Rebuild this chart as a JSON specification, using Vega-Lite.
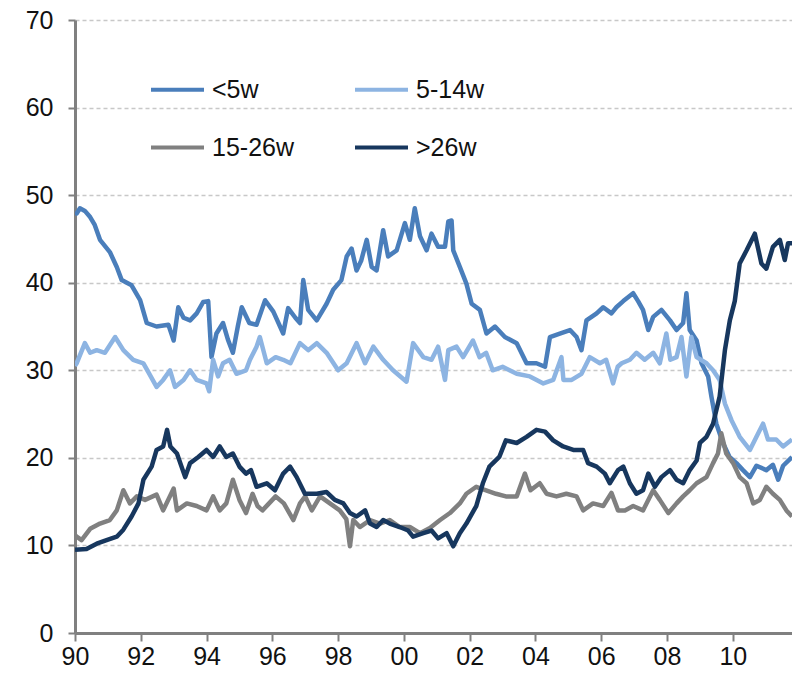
{
  "$schema": "https://vega.github.io/schema/vega-lite/v6.json",
  "width": 717,
  "height": 613,
  "autosize": {"type": "none"},
  "padding": {"left": 75, "top": 20, "right": 0, "bottom": 44},
  "background": "white",
  "config": {
    "view": {"stroke": null},
    "font": "Liberation Sans",
    "legend": {"labelFont": "Liberation Sans"}
  },
  "data": {
    "values": [
      {"s":"<5w","t":1990.0,"v":48.0},{"s":"<5w","t":1990.05,"v":47.9},{"s":"<5w","t":1990.15,"v":48.5},{"s":"<5w","t":1990.3,"v":48.2},{"s":"<5w","t":1990.46,"v":47.5},{"s":"<5w","t":1990.6,"v":46.6},{"s":"<5w","t":1990.76,"v":44.9},{"s":"<5w","t":1991.06,"v":43.5},{"s":"<5w","t":1991.27,"v":41.8},{"s":"<5w","t":1991.42,"v":40.3},{"s":"<5w","t":1991.72,"v":39.7},{"s":"<5w","t":1991.98,"v":38.0},{"s":"<5w","t":1992.18,"v":35.4},{"s":"<5w","t":1992.48,"v":35.0},{"s":"<5w","t":1992.84,"v":35.2},{"s":"<5w","t":1993.0,"v":33.4},{"s":"<5w","t":1993.14,"v":37.2},{"s":"<5w","t":1993.3,"v":36.0},{"s":"<5w","t":1993.5,"v":35.7},{"s":"<5w","t":1993.7,"v":36.5},{"s":"<5w","t":1993.9,"v":37.8},{"s":"<5w","t":1994.05,"v":37.9},{"s":"<5w","t":1994.15,"v":31.5},{"s":"<5w","t":1994.3,"v":34.2},{"s":"<5w","t":1994.5,"v":35.4},{"s":"<5w","t":1994.65,"v":33.5},{"s":"<5w","t":1994.8,"v":32.0},{"s":"<5w","t":1994.95,"v":35.0},{"s":"<5w","t":1995.07,"v":37.2},{"s":"<5w","t":1995.3,"v":35.4},{"s":"<5w","t":1995.52,"v":35.2},{"s":"<5w","t":1995.78,"v":38.0},{"s":"<5w","t":1996.03,"v":36.7},{"s":"<5w","t":1996.33,"v":34.2},{"s":"<5w","t":1996.48,"v":37.1},{"s":"<5w","t":1996.7,"v":36.0},{"s":"<5w","t":1996.84,"v":35.4},{"s":"<5w","t":1996.94,"v":40.3},{"s":"<5w","t":1997.09,"v":36.9},{"s":"<5w","t":1997.35,"v":35.7},{"s":"<5w","t":1997.65,"v":37.6},{"s":"<5w","t":1997.85,"v":39.2},{"s":"<5w","t":1998.1,"v":40.3},{"s":"<5w","t":1998.26,"v":43.0},{"s":"<5w","t":1998.41,"v":43.9},{"s":"<5w","t":1998.56,"v":41.4},{"s":"<5w","t":1998.7,"v":42.5},{"s":"<5w","t":1998.87,"v":44.9},{"s":"<5w","t":1999.02,"v":41.8},{"s":"<5w","t":1999.17,"v":41.4},{"s":"<5w","t":1999.37,"v":46.0},{"s":"<5w","t":1999.52,"v":43.0},{"s":"<5w","t":1999.78,"v":43.7},{"s":"<5w","t":2000.03,"v":46.8},{"s":"<5w","t":2000.18,"v":44.9},{"s":"<5w","t":2000.33,"v":48.5},{"s":"<5w","t":2000.49,"v":45.3},{"s":"<5w","t":2000.69,"v":43.7},{"s":"<5w","t":2000.84,"v":45.6},{"s":"<5w","t":2001.04,"v":44.1},{"s":"<5w","t":2001.25,"v":44.1},{"s":"<5w","t":2001.35,"v":47.0},{"s":"<5w","t":2001.45,"v":47.1},{"s":"<5w","t":2001.5,"v":43.7},{"s":"<5w","t":2001.7,"v":41.8},{"s":"<5w","t":2001.9,"v":39.9},{"s":"<5w","t":2002.06,"v":37.6},{"s":"<5w","t":2002.31,"v":36.9},{"s":"<5w","t":2002.51,"v":34.2},{"s":"<5w","t":2002.77,"v":35.0},{"s":"<5w","t":2003.07,"v":33.8},{"s":"<5w","t":2003.43,"v":33.1},{"s":"<5w","t":2003.73,"v":30.8},{"s":"<5w","t":2004.03,"v":30.8},{"s":"<5w","t":2004.29,"v":30.4},{"s":"<5w","t":2004.44,"v":33.8},{"s":"<5w","t":2004.74,"v":34.2},{"s":"<5w","t":2005.05,"v":34.6},{"s":"<5w","t":2005.25,"v":33.8},{"s":"<5w","t":2005.4,"v":32.3},{"s":"<5w","t":2005.55,"v":35.7},{"s":"<5w","t":2005.86,"v":36.5},{"s":"<5w","t":2006.06,"v":37.2},{"s":"<5w","t":2006.31,"v":36.5},{"s":"<5w","t":2006.46,"v":37.2},{"s":"<5w","t":2006.67,"v":37.9},{"s":"<5w","t":2006.97,"v":38.8},{"s":"<5w","t":2007.12,"v":37.9},{"s":"<5w","t":2007.27,"v":36.9},{"s":"<5w","t":2007.43,"v":34.6},{"s":"<5w","t":2007.58,"v":36.1},{"s":"<5w","t":2007.83,"v":36.9},{"s":"<5w","t":2008.09,"v":35.7},{"s":"<5w","t":2008.29,"v":34.6},{"s":"<5w","t":2008.49,"v":35.4},{"s":"<5w","t":2008.59,"v":38.8},{"s":"<5w","t":2008.69,"v":34.6},{"s":"<5w","t":2008.9,"v":33.4},{"s":"<5w","t":2009.05,"v":30.8},{"s":"<5w","t":2009.25,"v":29.3},{"s":"<5w","t":2009.35,"v":27.0},{"s":"<5w","t":2009.5,"v":23.9},{"s":"<5w","t":2009.7,"v":21.7},{"s":"<5w","t":2009.9,"v":20.1},{"s":"<5w","t":2010.11,"v":19.4},{"s":"<5w","t":2010.31,"v":18.6},{"s":"<5w","t":2010.52,"v":17.8},{"s":"<5w","t":2010.72,"v":19.1},{"s":"<5w","t":2011.02,"v":18.6},{"s":"<5w","t":2011.22,"v":19.2},{"s":"<5w","t":2011.38,"v":17.5},{"s":"<5w","t":2011.53,"v":19.1},{"s":"<5w","t":2011.8,"v":20.1},

      {"s":"5-14w","t":1990.0,"v":30.5},{"s":"5-14w","t":1990.05,"v":30.8},{"s":"5-14w","t":1990.3,"v":33.1},{"s":"5-14w","t":1990.46,"v":32.0},{"s":"5-14w","t":1990.66,"v":32.3},{"s":"5-14w","t":1990.91,"v":32.0},{"s":"5-14w","t":1991.22,"v":33.8},{"s":"5-14w","t":1991.47,"v":32.3},{"s":"5-14w","t":1991.77,"v":31.2},{"s":"5-14w","t":1992.08,"v":30.8},{"s":"5-14w","t":1992.23,"v":29.8},{"s":"5-14w","t":1992.48,"v":28.1},{"s":"5-14w","t":1992.68,"v":28.9},{"s":"5-14w","t":1992.89,"v":30.0},{"s":"5-14w","t":1993.04,"v":28.1},{"s":"5-14w","t":1993.3,"v":28.9},{"s":"5-14w","t":1993.5,"v":30.0},{"s":"5-14w","t":1993.7,"v":28.9},{"s":"5-14w","t":1994.0,"v":28.5},{"s":"5-14w","t":1994.08,"v":27.6},{"s":"5-14w","t":1994.2,"v":31.2},{"s":"5-14w","t":1994.35,"v":29.3},{"s":"5-14w","t":1994.5,"v":30.8},{"s":"5-14w","t":1994.7,"v":31.2},{"s":"5-14w","t":1994.91,"v":29.6},{"s":"5-14w","t":1995.2,"v":30.0},{"s":"5-14w","t":1995.32,"v":31.2},{"s":"5-14w","t":1995.52,"v":32.7},{"s":"5-14w","t":1995.62,"v":33.8},{"s":"5-14w","t":1995.83,"v":30.8},{"s":"5-14w","t":1996.1,"v":31.5},{"s":"5-14w","t":1996.33,"v":31.2},{"s":"5-14w","t":1996.55,"v":30.8},{"s":"5-14w","t":1996.84,"v":33.1},{"s":"5-14w","t":1997.09,"v":32.3},{"s":"5-14w","t":1997.35,"v":33.1},{"s":"5-14w","t":1997.65,"v":32.0},{"s":"5-14w","t":1998.0,"v":30.0},{"s":"5-14w","t":1998.26,"v":30.8},{"s":"5-14w","t":1998.56,"v":33.1},{"s":"5-14w","t":1998.82,"v":30.8},{"s":"5-14w","t":1999.07,"v":32.7},{"s":"5-14w","t":1999.37,"v":31.2},{"s":"5-14w","t":1999.67,"v":30.0},{"s":"5-14w","t":2000.08,"v":28.7},{"s":"5-14w","t":2000.28,"v":33.1},{"s":"5-14w","t":2000.59,"v":31.5},{"s":"5-14w","t":2000.84,"v":31.2},{"s":"5-14w","t":2001.04,"v":32.7},{"s":"5-14w","t":2001.25,"v":28.9},{"s":"5-14w","t":2001.35,"v":32.3},{"s":"5-14w","t":2001.6,"v":32.7},{"s":"5-14w","t":2001.8,"v":31.5},{"s":"5-14w","t":2002.1,"v":33.4},{"s":"5-14w","t":2002.3,"v":31.5},{"s":"5-14w","t":2002.5,"v":32.0},{"s":"5-14w","t":2002.7,"v":30.0},{"s":"5-14w","t":2003.0,"v":30.4},{"s":"5-14w","t":2003.43,"v":29.6},{"s":"5-14w","t":2003.83,"v":29.3},{"s":"5-14w","t":2004.24,"v":28.5},{"s":"5-14w","t":2004.54,"v":28.9},{"s":"5-14w","t":2004.79,"v":31.5},{"s":"5-14w","t":2004.85,"v":28.9},{"s":"5-14w","t":2005.1,"v":28.9},{"s":"5-14w","t":2005.4,"v":29.6},{"s":"5-14w","t":2005.65,"v":31.5},{"s":"5-14w","t":2005.96,"v":30.8},{"s":"5-14w","t":2006.15,"v":31.2},{"s":"5-14w","t":2006.36,"v":28.5},{"s":"5-14w","t":2006.5,"v":30.4},{"s":"5-14w","t":2006.62,"v":30.8},{"s":"5-14w","t":2006.87,"v":31.2},{"s":"5-14w","t":2007.07,"v":32.0},{"s":"5-14w","t":2007.32,"v":31.2},{"s":"5-14w","t":2007.58,"v":32.0},{"s":"5-14w","t":2007.78,"v":30.8},{"s":"5-14w","t":2007.98,"v":34.2},{"s":"5-14w","t":2008.1,"v":31.2},{"s":"5-14w","t":2008.29,"v":31.5},{"s":"5-14w","t":2008.44,"v":33.8},{"s":"5-14w","t":2008.59,"v":29.3},{"s":"5-14w","t":2008.74,"v":33.8},{"s":"5-14w","t":2008.9,"v":31.5},{"s":"5-14w","t":2009.2,"v":30.8},{"s":"5-14w","t":2009.4,"v":30.0},{"s":"5-14w","t":2009.6,"v":28.9},{"s":"5-14w","t":2009.76,"v":26.2},{"s":"5-14w","t":2009.96,"v":24.3},{"s":"5-14w","t":2010.21,"v":22.4},{"s":"5-14w","t":2010.52,"v":20.9},{"s":"5-14w","t":2010.72,"v":22.4},{"s":"5-14w","t":2010.92,"v":23.9},{"s":"5-14w","t":2011.07,"v":22.1},{"s":"5-14w","t":2011.32,"v":22.1},{"s":"5-14w","t":2011.53,"v":21.3},{"s":"5-14w","t":2011.8,"v":22.1},

      {"s":"15-26w","t":1990.0,"v":11.2},{"s":"15-26w","t":1990.05,"v":11.0},{"s":"15-26w","t":1990.2,"v":10.6},{"s":"15-26w","t":1990.46,"v":11.9},{"s":"15-26w","t":1990.76,"v":12.5},{"s":"15-26w","t":1991.06,"v":12.9},{"s":"15-26w","t":1991.27,"v":14.0},{"s":"15-26w","t":1991.47,"v":16.3},{"s":"15-26w","t":1991.67,"v":14.8},{"s":"15-26w","t":1991.88,"v":15.6},{"s":"15-26w","t":1992.13,"v":15.2},{"s":"15-26w","t":1992.48,"v":15.8},{"s":"15-26w","t":1992.68,"v":14.0},{"s":"15-26w","t":1993.0,"v":16.5},{"s":"15-26w","t":1993.1,"v":14.0},{"s":"15-26w","t":1993.4,"v":14.8},{"s":"15-26w","t":1993.7,"v":14.5},{"s":"15-26w","t":1994.0,"v":14.0},{"s":"15-26w","t":1994.2,"v":15.6},{"s":"15-26w","t":1994.4,"v":14.0},{"s":"15-26w","t":1994.6,"v":14.8},{"s":"15-26w","t":1994.8,"v":17.5},{"s":"15-26w","t":1995.0,"v":15.2},{"s":"15-26w","t":1995.2,"v":13.7},{"s":"15-26w","t":1995.4,"v":15.9},{"s":"15-26w","t":1995.55,"v":14.5},{"s":"15-26w","t":1995.7,"v":14.0},{"s":"15-26w","t":1995.9,"v":14.8},{"s":"15-26w","t":1996.1,"v":15.6},{"s":"15-26w","t":1996.35,"v":14.8},{"s":"15-26w","t":1996.64,"v":12.9},{"s":"15-26w","t":1996.84,"v":14.8},{"s":"15-26w","t":1997.0,"v":15.6},{"s":"15-26w","t":1997.2,"v":14.0},{"s":"15-26w","t":1997.45,"v":15.6},{"s":"15-26w","t":1997.75,"v":14.8},{"s":"15-26w","t":1998.05,"v":14.0},{"s":"15-26w","t":1998.25,"v":13.0},{"s":"15-26w","t":1998.36,"v":9.9},{"s":"15-26w","t":1998.46,"v":12.9},{"s":"15-26w","t":1998.66,"v":12.1},{"s":"15-26w","t":1998.97,"v":12.9},{"s":"15-26w","t":1999.27,"v":12.5},{"s":"15-26w","t":1999.57,"v":12.9},{"s":"15-26w","t":1999.87,"v":12.1},{"s":"15-26w","t":2000.18,"v":12.1},{"s":"15-26w","t":2000.49,"v":11.4},{"s":"15-26w","t":2000.79,"v":12.0},{"s":"15-26w","t":2001.1,"v":12.9},{"s":"15-26w","t":2001.4,"v":13.7},{"s":"15-26w","t":2001.7,"v":14.8},{"s":"15-26w","t":2001.9,"v":15.9},{"s":"15-26w","t":2002.2,"v":16.7},{"s":"15-26w","t":2002.5,"v":16.3},{"s":"15-26w","t":2002.8,"v":15.9},{"s":"15-26w","t":2003.1,"v":15.6},{"s":"15-26w","t":2003.43,"v":15.6},{"s":"15-26w","t":2003.68,"v":18.2},{"s":"15-26w","t":2003.85,"v":16.3},{"s":"15-26w","t":2004.13,"v":17.1},{"s":"15-26w","t":2004.34,"v":15.9},{"s":"15-26w","t":2004.64,"v":15.6},{"s":"15-26w","t":2004.94,"v":15.9},{"s":"15-26w","t":2005.25,"v":15.6},{"s":"15-26w","t":2005.45,"v":14.0},{"s":"15-26w","t":2005.75,"v":14.8},{"s":"15-26w","t":2006.06,"v":14.5},{"s":"15-26w","t":2006.31,"v":16.0},{"s":"15-26w","t":2006.51,"v":14.0},{"s":"15-26w","t":2006.72,"v":14.0},{"s":"15-26w","t":2006.97,"v":14.5},{"s":"15-26w","t":2007.27,"v":14.0},{"s":"15-26w","t":2007.58,"v":16.3},{"s":"15-26w","t":2007.78,"v":15.2},{"s":"15-26w","t":2008.04,"v":13.7},{"s":"15-26w","t":2008.29,"v":14.8},{"s":"15-26w","t":2008.49,"v":15.6},{"s":"15-26w","t":2008.69,"v":16.3},{"s":"15-26w","t":2008.9,"v":17.1},{"s":"15-26w","t":2009.2,"v":17.8},{"s":"15-26w","t":2009.4,"v":19.4},{"s":"15-26w","t":2009.55,"v":20.5},{"s":"15-26w","t":2009.65,"v":22.8},{"s":"15-26w","t":2009.8,"v":20.5},{"s":"15-26w","t":2010.01,"v":19.4},{"s":"15-26w","t":2010.21,"v":17.8},{"s":"15-26w","t":2010.42,"v":17.1},{"s":"15-26w","t":2010.62,"v":14.8},{"s":"15-26w","t":2010.82,"v":15.2},{"s":"15-26w","t":2011.02,"v":16.7},{"s":"15-26w","t":2011.22,"v":15.9},{"s":"15-26w","t":2011.43,"v":15.2},{"s":"15-26w","t":2011.63,"v":14.0},{"s":"15-26w","t":2011.8,"v":13.3},

      {"s":">26w","t":1990.0,"v":9.5},{"s":">26w","t":1990.35,"v":9.6},{"s":">26w","t":1990.66,"v":10.2},{"s":">26w","t":1990.96,"v":10.6},{"s":">26w","t":1991.27,"v":11.0},{"s":">26w","t":1991.47,"v":11.8},{"s":">26w","t":1991.72,"v":13.3},{"s":">26w","t":1991.93,"v":14.8},{"s":">26w","t":1992.08,"v":17.5},{"s":">26w","t":1992.33,"v":19.0},{"s":">26w","t":1992.48,"v":20.9},{"s":">26w","t":1992.68,"v":21.3},{"s":">26w","t":1992.8,"v":23.2},{"s":">26w","t":1992.9,"v":21.3},{"s":">26w","t":1993.1,"v":20.5},{"s":">26w","t":1993.35,"v":17.8},{"s":">26w","t":1993.5,"v":19.4},{"s":">26w","t":1993.75,"v":20.1},{"s":">26w","t":1994.0,"v":20.9},{"s":">26w","t":1994.2,"v":20.1},{"s":">26w","t":1994.4,"v":21.3},{"s":">26w","t":1994.6,"v":20.1},{"s":">26w","t":1994.8,"v":20.5},{"s":">26w","t":1995.0,"v":19.0},{"s":">26w","t":1995.2,"v":18.2},{"s":">26w","t":1995.35,"v":18.6},{"s":">26w","t":1995.52,"v":16.7},{"s":">26w","t":1995.83,"v":17.1},{"s":">26w","t":1996.08,"v":16.3},{"s":">26w","t":1996.33,"v":18.2},{"s":">26w","t":1996.54,"v":19.0},{"s":">26w","t":1996.74,"v":17.8},{"s":">26w","t":1996.99,"v":15.9},{"s":">26w","t":1997.35,"v":15.9},{"s":">26w","t":1997.65,"v":16.1},{"s":">26w","t":1997.9,"v":15.2},{"s":">26w","t":1998.16,"v":14.8},{"s":">26w","t":1998.36,"v":13.7},{"s":">26w","t":1998.56,"v":13.3},{"s":">26w","t":1998.82,"v":14.0},{"s":">26w","t":1998.97,"v":12.5},{"s":">26w","t":1999.17,"v":12.1},{"s":">26w","t":1999.37,"v":12.9},{"s":">26w","t":1999.57,"v":12.5},{"s":">26w","t":1999.87,"v":12.1},{"s":">26w","t":2000.13,"v":11.7},{"s":">26w","t":2000.28,"v":11.0},{"s":">26w","t":2000.59,"v":11.4},{"s":">26w","t":2000.84,"v":11.7},{"s":">26w","t":2001.04,"v":10.8},{"s":">26w","t":2001.3,"v":11.4},{"s":">26w","t":2001.5,"v":9.9},{"s":">26w","t":2001.7,"v":11.4},{"s":">26w","t":2001.9,"v":12.5},{"s":">26w","t":2002.2,"v":14.5},{"s":">26w","t":2002.4,"v":17.1},{"s":">26w","t":2002.6,"v":19.0},{"s":">26w","t":2002.9,"v":20.1},{"s":">26w","t":2003.1,"v":22.0},{"s":">26w","t":2003.43,"v":21.7},{"s":">26w","t":2003.73,"v":22.4},{"s":">26w","t":2004.03,"v":23.2},{"s":">26w","t":2004.29,"v":23.0},{"s":">26w","t":2004.54,"v":22.0},{"s":">26w","t":2004.84,"v":21.3},{"s":">26w","t":2005.15,"v":20.9},{"s":">26w","t":2005.45,"v":20.9},{"s":">26w","t":2005.6,"v":19.4},{"s":">26w","t":2005.86,"v":19.0},{"s":">26w","t":2006.11,"v":18.2},{"s":">26w","t":2006.26,"v":17.1},{"s":">26w","t":2006.51,"v":18.6},{"s":">26w","t":2006.67,"v":19.0},{"s":">26w","t":2006.87,"v":17.1},{"s":">26w","t":2007.07,"v":15.9},{"s":">26w","t":2007.27,"v":16.3},{"s":">26w","t":2007.43,"v":18.2},{"s":">26w","t":2007.63,"v":16.7},{"s":">26w","t":2007.83,"v":17.8},{"s":">26w","t":2008.09,"v":18.6},{"s":">26w","t":2008.29,"v":17.5},{"s":">26w","t":2008.49,"v":17.1},{"s":">26w","t":2008.69,"v":18.6},{"s":">26w","t":2008.9,"v":19.7},{"s":">26w","t":2009.0,"v":21.7},{"s":">26w","t":2009.2,"v":22.4},{"s":">26w","t":2009.4,"v":23.9},{"s":">26w","t":2009.6,"v":27.0},{"s":">26w","t":2009.76,"v":32.3},{"s":">26w","t":2009.91,"v":35.7},{"s":">26w","t":2010.06,"v":37.9},{"s":">26w","t":2010.21,"v":42.2},{"s":">26w","t":2010.42,"v":43.7},{"s":">26w","t":2010.67,"v":45.6},{"s":">26w","t":2010.87,"v":42.2},{"s":">26w","t":2011.02,"v":41.6},{"s":">26w","t":2011.22,"v":44.1},{"s":">26w","t":2011.43,"v":44.9},{"s":">26w","t":2011.58,"v":42.6},{"s":">26w","t":2011.68,"v":44.5},{"s":">26w","t":2011.8,"v":44.5}
    ]
  },
  "mark": {"type": "line", "strokeWidth": 4.5, "clip": true, "strokeJoin": "round"},
  "encoding": {
    "x": {
      "field": "t", "type": "quantitative",
      "scale": {"domain": [1990, 2011.8], "nice": false, "zero": false},
      "axis": {
        "title": null,
        "values": [1990, 1992, 1994, 1996, 1998, 2000, 2002, 2004, 2006, 2008, 2010],
        "labelExpr": "slice(toString(datum.value), 2)",
        "grid": false,
        "domainColor": "#808080", "domainWidth": 3,
        "tickColor": "#808080", "tickWidth": 2, "tickSize": 8,
        "labelFontSize": 25, "labelColor": "#111111", "labelPadding": 3,
        "labelFlush": false, "labelOverlap": false
      }
    },
    "y": {
      "field": "v", "type": "quantitative",
      "scale": {"domain": [0, 70], "nice": false},
      "axis": {
        "title": null,
        "values": [0, 10, 20, 30, 40, 50, 60, 70],
        "grid": true, "gridDash": [4, 3], "gridColor": "#c8c8c8", "gridWidth": 1.5,
        "domainColor": "#808080", "domainWidth": 3,
        "tickColor": "#808080", "tickWidth": 2, "tickSize": 7,
        "labelFontSize": 25, "labelColor": "#111111", "labelPadding": 15,
        "labelFlush": false, "labelOverlap": false
      }
    },
    "color": {
      "field": "s", "type": "nominal",
      "scale": {"domain": ["<5w", "5-14w", "15-26w", ">26w"], "range": ["#4a7ebb", "#8db4e2", "#808080", "#17375e"]},
      "legend": {
        "title": null,
        "orient": "none",
        "direction": "horizontal",
        "legendX": 74,
        "legendY": 41,
        "columns": 2,
        "symbolType": "stroke",
        "symbolSize": 2809,
        "symbolStrokeWidth": 4,
        "labelFontSize": 25,
        "labelColor": "#111111",
        "labelOffset": 6,
        "columnPadding": 53,
        "rowPadding": 16,
        "labelLimit": 300
      }
    }
  }
}
